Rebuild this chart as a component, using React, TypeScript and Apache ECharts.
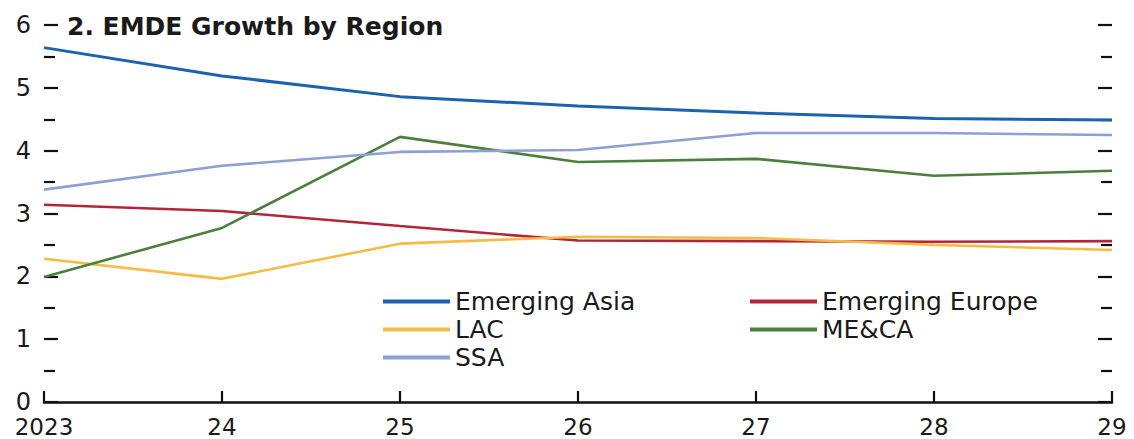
import React, { useEffect, useRef } from "react";
import * as echarts from "echarts";

const categories = ["2023", "24", "25", "26", "27", "28", "29"];
const emergingAsia = [5.64, 5.19, 4.86, 4.71, 4.6, 4.51, 4.49];
const emergingEurope = [3.14, 3.04, 2.8, 2.57, 2.56, 2.55, 2.56];
const lac = [2.28, 1.96, 2.52, 2.63, 2.61, 2.5, 2.42];
const meca = [1.99, 2.77, 4.22, 3.82, 3.87, 3.6, 3.68];
const ssa = [3.38, 3.76, 3.98, 4.01, 4.28, 4.28, 4.25];

const FONT = "DejaVu Sans, Liberation Sans, Arial, sans-serif";
const TXT = "#1a1a1a";

export default function App() {
  const ref = useRef<HTMLDivElement>(null);
  useEffect(() => {
    if (!ref.current) return;
    const chart = echarts.init(ref.current, null, { renderer: "svg" });
    const mk = (name: string, data: number[], color: string, width = 2.6) => ({
      name,
      type: "line",
      data,
      symbol: "none",
      lineStyle: { color, width },
      itemStyle: { color },
      z: 3,
    });
    const yCommon = {
      type: "value",
      min: 0,
      max: 6,
      interval: 1,
      splitLine: { show: false },
      axisLine: { show: false },
      axisTick: { show: true, inside: true, length: 14, lineStyle: { color: "#111", width: 2.2 } },
      minorTick: { show: true, splitNumber: 2, length: 11, lineStyle: { color: "#111", width: 2.2 } },
    };
    const legendCommon = {
      orient: "vertical",
      top: 284,
      itemWidth: 67,
      itemHeight: 4,
      itemGap: 3,
      icon: "rect",
      textStyle: { fontFamily: FONT, fontSize: 25, color: TXT, padding: [0, 0, 0, 0] },
    };
    chart.setOption({
      animation: false,
      grid: { left: 44, right: 22, top: 25, bottom: 37, containLabel: false },
      graphic: [
        {
          type: "text",
          x: 67,
          y: 26,
          style: {
            text: "2. EMDE Growth by Region",
            font: `bold 25px ${FONT}`,
            fill: TXT,
            verticalAlign: "middle",
          },
        },
      ],
      legend: [
        { ...legendCommon, data: ["Emerging Asia", "LAC", "SSA"], left: 378 },
        { ...legendCommon, data: ["Emerging Europe", "ME&CA"], left: 745 },
      ],
      xAxis: {
        type: "category",
        data: categories,
        boundaryGap: false,
        axisLine: { show: true, lineStyle: { color: "#111", width: 2.5 } },
        axisTick: { show: true, inside: true, length: 11, alignWithLabel: true, lineStyle: { color: "#111", width: 2.2 } },
        axisLabel: { fontFamily: FONT, fontSize: 23, lineHeight: 20, color: TXT, margin: 15, interval: 0 },
        splitLine: { show: false },
      },
      yAxis: [
        {
          ...yCommon,
          position: "left",
          axisLabel: { fontFamily: FONT, fontSize: 24, lineHeight: 20, color: TXT, margin: 13 },
        },
        {
          ...yCommon,
          position: "right",
          axisLabel: { show: false },
        },
      ],
      series: [
        mk("Emerging Asia", emergingAsia, "#1b63ad", 3),
        mk("Emerging Europe", emergingEurope, "#b3253a"),
        mk("LAC", lac, "#f6bb45"),
        mk("ME&CA", meca, "#4b7f3b"),
        mk("SSA", ssa, "#8d9fd5"),
      ],
    });
    return () => chart.dispose();
  }, []);
  return (
    <div
      ref={ref}
      style={{ position: "fixed", left: 0, top: 0, width: 1134, height: 439, background: "#fff" }}
    />
  );
}
